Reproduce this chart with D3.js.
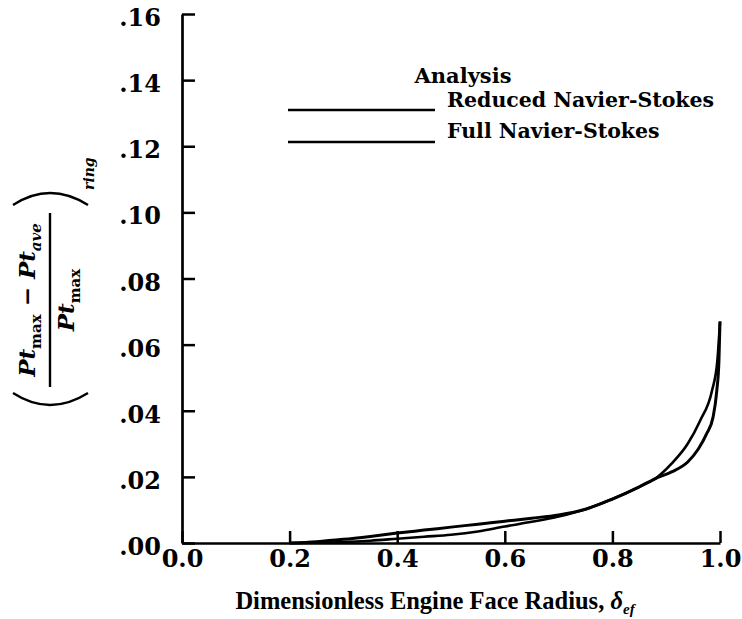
<!DOCTYPE html>
<html><head><meta charset="utf-8">
<script src="https://cdn.jsdelivr.net/npm/d3@7"></script>
<style>html,body{margin:0;padding:0;background:#fff;}svg{display:block;}</style>
</head><body>
<script>
// ---- data ----
const xTicks = [0, 0.2, 0.4, 0.6, 0.8, 1.0];
const xTickLabels = ["0.0", "0.2", "0.4", "0.6", "0.8", "1.0"];
const yTicks = [0, 0.02, 0.04, 0.06, 0.08, 0.10, 0.12, 0.14, 0.16];
const yTickLabels = [".00", ".02", ".04", ".06", ".08", ".10", ".12", ".14", ".16"];
const seriesNames = ["Reduced Navier-Stokes", "Full Navier-Stokes"];
const reducedX = [0.20, 0.25, 0.30, 0.35, 0.40, 0.45, 0.50, 0.55, 0.60, 0.65, 0.70, 0.75, 0.80, 0.85, 0.88, 0.91, 0.94, 0.96, 0.975, 0.987, 0.994, 0.998, 1.0];
const reducedY = [0.0, 0.0004, 0.0011, 0.0020, 0.0030, 0.0039, 0.0048, 0.0057, 0.0066, 0.0075, 0.0085, 0.0102, 0.0133, 0.0170, 0.0195, 0.0215, 0.0245, 0.0285, 0.0330, 0.0380, 0.0460, 0.0550, 0.0670];
const fullX = [0.20, 0.30, 0.35, 0.40, 0.45, 0.50, 0.55, 0.60, 0.65, 0.70, 0.75, 0.80, 0.85, 0.88, 0.91, 0.94, 0.963, 0.985, 0.995, 1.0];
const fullY = [0.0, 0.0003, 0.0007, 0.0013, 0.0019, 0.0025, 0.0035, 0.0050, 0.0064, 0.0080, 0.0102, 0.0133, 0.0170, 0.0195, 0.0240, 0.0300, 0.0370, 0.0460, 0.0550, 0.0670];

const W = 742, H = 619;
const FONT = "'DejaVu Serif', 'Liberation Serif', serif";
const TFONT = "'Liberation Serif', 'DejaVu Serif', serif";
const svg = d3.select("body").append("svg").attr("width", W).attr("height", H)
  .style("font-family", FONT).style("font-weight", "bold");

const x = d3.scaleLinear().domain([0, 1]).range([182, 720]);
const y = d3.scaleLinear().domain([0, 0.16]).range([543, 14]);

// axes
const yAxis = d3.axisLeft(y).tickValues(yTicks)
  .tickFormat((d, i) => yTickLabels[i]).tickSizeInner(-13).tickSizeOuter(0).tickPadding(21);
const gy = svg.append("g").attr("transform", `translate(${x(0)},0)`).call(yAxis);
const xAxis = d3.axisBottom(x).tickValues(xTicks)
  .tickFormat((d, i) => xTickLabels[i]).tickSizeInner(-12).tickSizeOuter(0).tickPadding(7);
const gx = svg.append("g").attr("transform", `translate(0,${y(0)})`).call(xAxis);
[gx, gy].forEach(g => {
  g.select(".domain").attr("stroke", "#000").attr("stroke-width", 2.7);
  g.selectAll(".tick line").attr("stroke", "#000").attr("stroke-width", 2.5);
  g.selectAll(".tick text").attr("fill", "#000").style("font-family", FONT)
    .style("font-size", "24px").style("font-weight", "bold");
});
gy.selectAll(".tick text").attr("dy", "0.48em");

// curves
const line = d3.line().x(d => x(d[0])).y(d => y(d[1])).curve(d3.curveMonotoneX);
const reduced = reducedX.map((v, i) => [v, reducedY[i]]);
const full = fullX.map((v, i) => [v, fullY[i]]);
svg.append("path").datum(reduced).attr("d", line)
  .attr("fill", "none").attr("stroke", "#000").attr("stroke-width", 3);
svg.append("path").datum(full).attr("d", line)
  .attr("fill", "none").attr("stroke", "#000").attr("stroke-width", 2.6);

// legend
svg.append("text").attr("x", 463).attr("y", 83).attr("text-anchor", "middle")
  .style("font-size", "21px").text("Analysis");
const legY = [110, 142];
const legTextY = [107, 138];
seriesNames.forEach((n, i) => {
  svg.append("line").attr("x1", 288).attr("x2", 435).attr("y1", legY[i]).attr("y2", legY[i])
    .attr("stroke", "#000").attr("stroke-width", 2.6);
  svg.append("text").attr("x", 447).attr("y", legTextY[i])
    .style("font-size", "20.5px").text(n);
});

// x axis title
const xt = svg.append("text").attr("x", 435).attr("y", 609).attr("text-anchor", "middle")
  .style("font-family", TFONT).style("font-size", "24.5px");
xt.append("tspan").text("Dimensionless Engine Face Radius, ");
xt.append("tspan").style("font-style", "italic").text("δ");
xt.append("tspan").attr("dy", 5).style("font-style", "italic").style("font-size", "15px").text("ef");

// y axis title (rotated fraction)
const yl = svg.append("g").attr("transform", "translate(50,300) rotate(-90)");
yl.append("line").attr("x1", -87).attr("x2", 87).attr("y1", 0).attr("y2", 0)
  .attr("stroke", "#000").attr("stroke-width", 2.4);
const num = yl.append("text").attr("x", 0).attr("y", -15).attr("text-anchor", "middle")
  .style("font-size", "23px");
num.append("tspan").style("font-style", "italic").text("Pt");
num.append("tspan").attr("dy", 6).style("font-size", "15px").text("max");
num.append("tspan").attr("dy", -6).text(" − ");
num.append("tspan").style("font-style", "italic").text("Pt");
num.append("tspan").attr("dy", 6).style("font-size", "15px").style("font-style", "italic").text("ave");
const den = yl.append("text").attr("x", 0).attr("y", 24).attr("text-anchor", "middle")
  .style("font-size", "23px");
den.append("tspan").style("font-style", "italic").text("Pt");
den.append("tspan").attr("dy", 6).style("font-size", "15px").text("max");
yl.append("path").attr("d", "M-93,-37 Q-117,0 -93,38").attr("fill", "none")
  .attr("stroke", "#000").attr("stroke-width", 2.4);
yl.append("path").attr("d", "M95,-37 Q119,0 95,38").attr("fill", "none")
  .attr("stroke", "#000").attr("stroke-width", 2.4);
yl.append("text").attr("x", 110).attr("y", 44)
  .style("font-size", "14px").style("font-style", "italic").text("ring");
</script>
</body></html>
